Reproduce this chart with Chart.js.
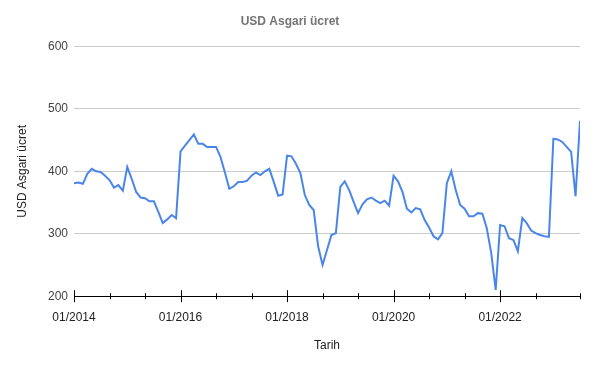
<!DOCTYPE html>
<html lang="tr">
<head>
    <meta charset="UTF-8">
    <title>USD Asgari ücret</title>
    <script src="https://cdn.jsdelivr.net/npm/chart.js"></script>
    <style>
        html, body { margin: 0; padding: 0; background: #fff; }
        #wrap { width: 598px; height: 368px; }
    </style>
</head>
<body>
    <div id="wrap"><canvas id="myChart" width="598" height="368"></canvas></div>

    <script>
        // aylar: 01/2014 - 07/2023
        const startYear = 2014;
        const months = [];
        for (let i = 0; i < 115; i++) {
            const y = startYear + Math.floor(i / 12);
            const m = (i % 12) + 1;
            months.push((m < 10 ? '0' + m : '' + m) + '/' + y);
        }

        // USD cinsinden asgari ücret
        const usdWage = [
            381, 382, 380, 396, 404, 400, 399, 393, 386, 374, 378, 369,   // 2014
            407, 388, 367, 358, 357, 352, 352, 335, 317, 323, 330, 325,   // 2015
            432, 441, 450, 459, 444, 444, 439, 439, 439, 423, 398, 372,   // 2016
            376, 383, 383, 385, 393, 398, 394, 400, 404, 383, 361, 363,   // 2017
            425, 424, 412, 397, 362, 346, 338, 280, 250, 274, 298, 301,   // 2018
            375, 384, 370, 351, 333, 347, 355, 358, 353, 349, 353, 345,   // 2019
            393, 384, 367, 340, 334, 341, 339, 322, 310, 296, 291, 301,   // 2020
            381, 400, 370, 346, 340, 328, 328, 333, 332, 309, 269, 210,   // 2021
            314, 312, 293, 290, 272, 325, 317, 305, 301, 298, 296, 295,   // 2022
            452, 451, 447, 439, 431, 360, 481                             // 2023
        ];

        const yTicks = [200, 300, 400, 500, 600];
        const xTickStep = 8;     // ara çentikler 8 ayda bir
        const xLabelStep = 24;   // etiketler 2 yılda bir

        const points = usdWage.map((v, i) => ({ x: i, y: v }));

        // eksen çentiklerini eksen çizgisinin iki yanına çiz
        const crossTicks = {
            id: 'crossTicks',
            afterDraw(chart) {
                const xs = chart.scales.x;
                const ctx = chart.ctx;
                const y0 = chart.chartArea.bottom;
                ctx.save();
                ctx.strokeStyle = '#000';
                ctx.lineWidth = 1;
                xs.ticks.forEach(t => {
                    const px = Math.round(xs.getPixelForValue(t.value)) + 0.5;
                    const len = t.value % xLabelStep === 0 ? 6 : 3;
                    ctx.beginPath();
                    ctx.moveTo(px, y0 - len);
                    ctx.lineTo(px, y0 + len);
                    ctx.stroke();
                });
                ctx.restore();
            }
        };

        const ctx = document.getElementById('myChart').getContext('2d');
        new Chart(ctx, {
            type: 'line',
            data: {
                labels: months,
                datasets: [{
                    label: 'USD Asgari ücret',
                    data: points,
                    borderColor: '#4a86e8',
                    borderWidth: 2,
                    pointRadius: 0,
                    tension: 0,
                    fill: false
                }]
            },
            options: {
                responsive: false,
                animation: false,
                layout: { padding: { left: 0, right: 18, top: 0, bottom: 11 } },
                plugins: {
                    legend: { display: false },
                    tooltip: { enabled: false },
                    title: {
                        display: true,
                        text: 'USD Asgari ücret',
                        color: '#757575',
                        font: { family: 'Arial, "Liberation Sans"', size: 12, weight: 'bold' },
                        padding: { top: 14, bottom: 18 }
                    }
                },
                scales: {
                    x: {
                        type: 'linear',
                        min: 0,
                        max: usdWage.length - 1,
                        grid: { display: false, drawTicks: false },
                        border: { display: true, color: '#000', width: 1 },
                        ticks: {
                            stepSize: xTickStep,
                            autoSkip: false,
                            maxRotation: 0,
                            padding: 14,
                            color: '#222',
                            font: { family: 'Arial, "Liberation Sans"', size: 12 },
                            callback: v => (v % xLabelStep === 0 ? months[v] : '')
                        },
                        title: {
                            display: true,
                            text: 'Tarih',
                            color: '#222',
                            font: { family: 'Arial, "Liberation Sans"', size: 12 },
                            padding: { top: 0, bottom: 4 }
                        }
                    },
                    y: {
                        min: yTicks[0],
                        max: yTicks[yTicks.length - 1],
                        afterFit: s => { s.width = 74; },
                        afterBuildTicks: s => { s.ticks = yTicks.map(v => ({ value: v })); },
                        grid: { color: '#cccccc', drawTicks: false },
                        border: { display: false },
                        ticks: {
                            padding: 6,
                            color: '#444',
                            font: { family: 'Arial, "Liberation Sans"', size: 12 }
                        },
                        title: {
                            display: true,
                            text: 'USD Asgari ücret',
                            color: '#222',
                            font: { family: 'Arial, "Liberation Sans"', size: 12 },
                            padding: { top: 15, bottom: 0 }
                        }
                    }
                }
            },
            plugins: [crossTicks]
        });
    </script>
</body>
</html>
